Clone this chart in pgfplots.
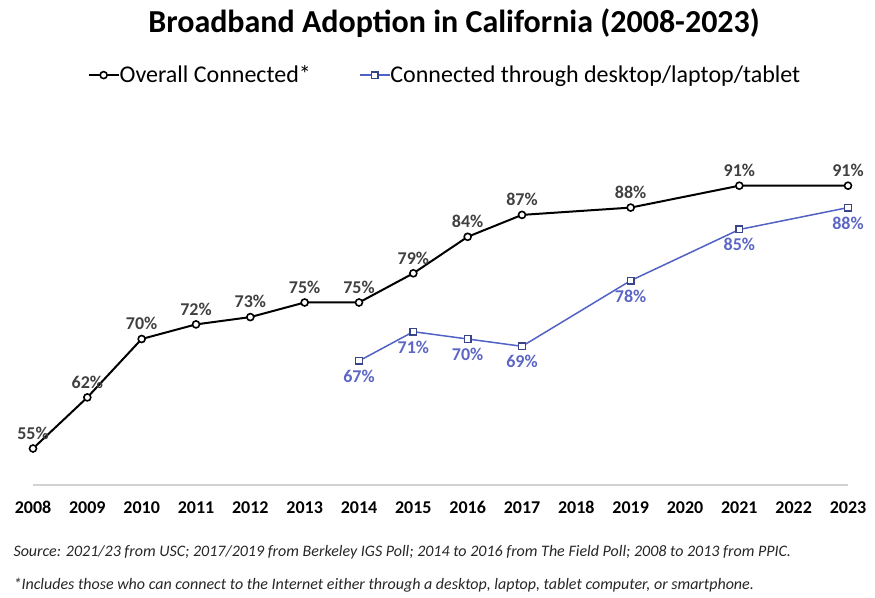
\documentclass[border=0pt]{standalone}
\usepackage{pgfplots}
\pgfplotsset{compat=1.18}
\usepackage{fontspec}
\setmainfont{Carlito}

\definecolor{lineblue}{RGB}{82,98,196}
\definecolor{lblblue}{RGB}{92,102,196}
\definecolor{lblgray}{RGB}{64,64,64}
\definecolor{axgray}{RGB}{210,210,210}

\begin{document}
\begin{tikzpicture}
\useasboundingbox (0,0) rectangle (875pt,597pt);

% title and notes
\node[font=\bfseries\fontsize{32}{36}\selectfont] at (454pt,574pt) {Broadband Adoption in California (2008-2023)};
\node[anchor=west,font=\itshape\fontsize{16}{18}\selectfont,text=black!85] at (10pt,45pt)
  {Source: 2021/23 from USC; 2017/2019 from Berkeley IGS Poll; 2014 to 2016 from The Field Poll; 2008 to 2013 from PPIC.};
\node[anchor=west,font=\itshape\fontsize{16}{18}\selectfont,text=black!85] at (10pt,12pt)
  {*Includes those who can connect to the Internet either through a desktop, laptop, tablet computer, or smartphone.};

\begin{axis}[
  scale only axis,
  at={(33pt,112pt)}, anchor=south west,
  width=815pt, height=365pt,
  xmin=0, xmax=15, ymin=50, ymax=100,
  clip=false,
  axis y line=none,
  axis x line*=bottom,
  x axis line style={draw=axgray, line width=1.5pt, -},
  xtick={0,...,15},
  xticklabels={2008,2009,2010,2011,2012,2013,2014,2015,2016,2017,2018,2019,2020,2021,2022,2023},
  major tick length=0pt,
  xticklabel style={font=\bfseries\fontsize{18}{20}\selectfont, anchor=base, yshift=-29pt},
  /pgf/number format/assume math mode=true,
  legend columns=2,
  legend style={at={(0.5055,1.123)}, anchor=center, draw=none, fill=none,
    font=\fontsize{24}{28}\selectfont, column sep=0pt,
    /tikz/every odd column/.append style={column sep=-2pt},
    /tikz/every even column/.append style={column sep=46pt}},
  legend image code/.code={\draw[mark repeat=2,mark phase=2] plot coordinates {(0pt,0pt) (15pt,0pt) (30pt,0pt)};},
  nodes near coords={\pgfmathprintnumber[fixed,precision=0]{\pgfplotspointmeta}\%},
  every node near coord/.append style={font=\bfseries\fontsize{18}{20}\selectfont},
]
\addplot[black, line width=2pt, mark=*, mark size=3.5pt,
  mark options={fill=white, draw=black, line width=1.6pt},
  every node near coord/.append style={text=lblgray, yshift=5pt}]
  coordinates {(0,55) (1,62) (2,70) (3,72) (4,73) (5,75) (6,75) (7,79) (8,84) (9,87) (11,88) (13,91) (15,91)};
\addlegendentry{Overall Connected*}

\addplot[lineblue, line width=1.5pt, mark=square*, mark size=3.3pt,
  mark options={fill=white, draw=lineblue!70!black, line width=1.4pt},
  nodes near coords align=below,
  every node near coord/.append style={text=lblblue, yshift=-5pt}]
  coordinates {(6,67) (7,71) (8,70) (9,69) (11,78) (13,85) (15,88)};
\addlegendentry{Connected through desktop/laptop/tablet}
\end{axis}
\end{tikzpicture}
\end{document}
